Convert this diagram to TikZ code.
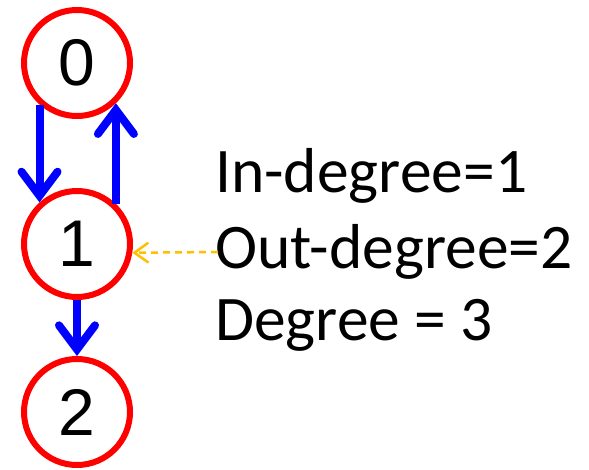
\documentclass[tikz,border=0pt]{standalone}
\usepackage{fontspec}
\setmainfont{Carlito}
\newfontfamily\digitfont{Liberation Sans}
\usetikzlibrary{arrows.meta}

\definecolor{vertexred}{RGB}{255,0,0}
\definecolor{edgeblue}{RGB}{0,0,255}
\definecolor{pointeryellow}{RGB}{255,192,0}

\begin{document}
\begin{tikzpicture}[x=1pt, y=-1pt,
  vertex/.style={circle, draw=vertexred, line width=6pt, minimum size=106pt,
    inner sep=0pt, font=\digitfont\fontsize{66}{66}\selectfont},
  edge/.style={draw=edgeblue, line width=8pt,
    -{Straight Barb[length=24pt, width=36pt, line cap=round]}},
  pointer/.style={draw=pointeryellow, line width=2.5pt, dash pattern=on 7pt off 5pt,
    -{Straight Barb[length=14pt, width=20pt]}},
  info/.style={anchor=base west, inner sep=0pt, font=\fontsize{63.5}{72}\selectfont}]
  \useasboundingbox (0,0) rectangle (589,469);
  % Vertices
  \node[vertex] (n0) at (77,63) {0};
  \node[vertex] (n1) at (77,244) {1};
  \node[vertex] (n2) at (77,412) {2};
  % Edges
  \draw[edge] (n0.228) -- (n1.132);
  \draw[edge] (n1.46) -- (n0.314);
  \draw[edge] (n1.south) -- (n2.north);
  % Degrees of vertex 1
  \node[info] (indeg) at (215,192) {In-degree=1};
  \node[info] (outdeg) at (215,268) {Out-degree=2};
  \node[info] (deg) at (215,340) {Degree = 3};
  \coordinate (ptail) at (218,252);
  \draw[pointer] (ptail) -- (n1.-9);
\end{tikzpicture}
\end{document}
